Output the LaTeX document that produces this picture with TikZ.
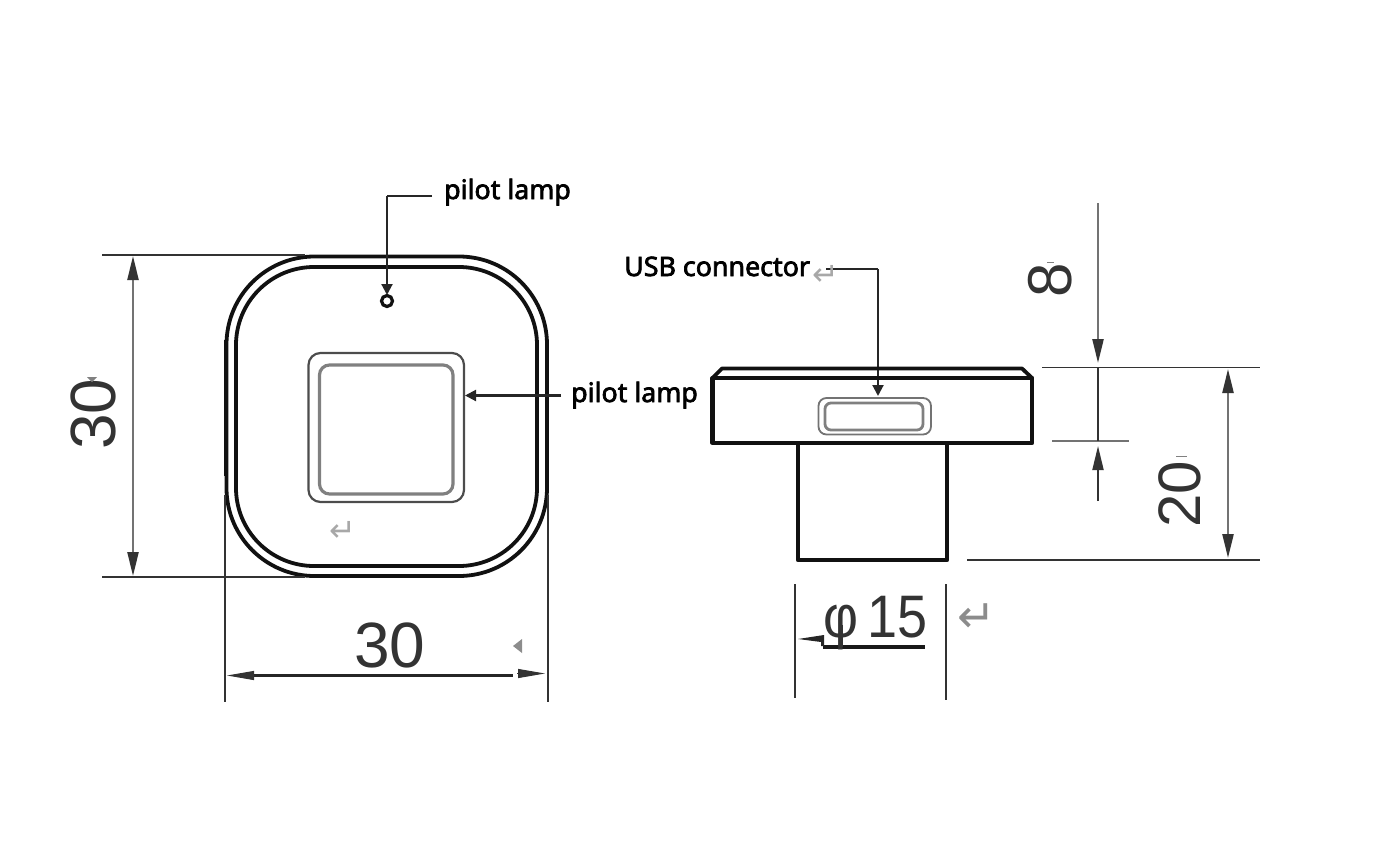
\documentclass[tikz,border=0pt]{standalone}
\usepackage{graphicx}
\usepackage{fontspec}
\setmainfont{Liberation Sans}
\newfontfamily\labelfont[FakeBold=2.6]{Noto Sans}
\newfontfamily\markfont{DejaVu Sans}
\usetikzlibrary{arrows.meta,calc}
\definecolor{ink}{HTML}{111111}
\definecolor{dimtxt}{HTML}{333333}
\definecolor{midgray}{HTML}{808080}
\definecolor{retgray}{HTML}{A8A8A8}
\tikzset{
  x=1pt,y=-1pt,
  body/.style={draw=ink,line width=4.2pt},
  bodyrim/.style={draw=ink,line width=3.8pt},
  fine/.style={draw=black!70,line width=2.2pt},
  softline/.style={draw=midgray,line width=3.2pt},
  dimline/.style={draw=black!80,line width=1.9pt},
  softdim/.style={draw=black!55,line width=2.4pt},
  leader/.style={draw=black!85,line width=2.1pt},
  headA/.tip={Stealth[length=24pt,width=11pt,inset=0pt,color=black!80]},
  smalltip/.style={-{Stealth[length=11pt,width=11pt,inset=0pt]}},
  ftxt/.style={font=\labelfont\fontsize{26.8}{28}\selectfont,text=black,inner sep=0pt},
  dimtext/.style={font=\fontsize{64}{66}\selectfont,text=dimtxt,inner sep=0pt},
  ret/.style={font=\markfont\fontsize{32}{34}\selectfont,text=retgray,inner sep=0pt},
}
\begin{document}
\begin{tikzpicture}
\useasboundingbox (0,0) rectangle (1398,856);
% front view
\draw[bodyrim,rounded corners=88pt] (226.5,256.5) rectangle (547,576);
\draw[bodyrim,rounded corners=78pt] (236,267) rectangle (537,566);
\draw[bodyrim] (226,340) -- (226,476);
\draw[bodyrim] (235.5,340) -- (235.5,475);
\draw[fine,rounded corners=12pt] (308.5,353) rectangle (464,502);
\draw[softline,rounded corners=10pt] (319.5,365) rectangle (453,494);
\node[circle,draw=ink,line width=3.2pt,minimum size=11pt,inner sep=0pt] (lamp) at (387,301) {};
% labels
\node[ftxt,anchor=base west] (lampA) at (444,199) {pilot lamp};
\node[ftxt,anchor=base west] (lampB) at (571,402) {pilot lamp};
\node[ftxt,anchor=base west] (usb) at (624,276) {USB connector};
\coordinate (elbowA) at (387,196);
\coordinate (lampTop) at (387,295);
\coordinate (squareR) at (465,395.5);
\coordinate (lampBfree) at (561,395.5);
\coordinate (usbfree) at (826,269);
\coordinate (elbowU) at (878,269);
\coordinate (portTop) at (878,396);
\coordinate (lampAfree) at (432,196);
\draw[leader] (lampAfree) -- (elbowA);
\draw[leader,smalltip] (elbowA) -- (lampTop);
\draw[leader,smalltip] (lampBfree) -- (squareR);
\draw[leader] (usbfree) -- (elbowU);
\draw[leader,smalltip] (elbowU) -- (portTop);
% return marks
\node[ret] at (343,531) {↵};
\node[ret] at (826,275) {↵};
\node[ret,font=\markfont\fontsize{46}{48}\selectfont,text=black!45] at (977,618) {↵};
% dimension 30 left
\coordinate (tl1) at (102,255); \coordinate (tl2) at (305,255);
\coordinate (bl1) at (102,577); \coordinate (bl2) at (305,577);
\draw[dimline] (tl1) -- (tl2);
\draw[dimline] (bl1) -- (bl2);
\coordinate (la) at (133,256); \coordinate (lb) at (133,576);
\draw[softdim,{headA}-{headA}] (la) -- (lb);
\node[dimtext,rotate=90] (d30a) at (93,414) {30};
% dimension 30 bottom
\coordinate (bx1a) at (225,495); \coordinate (bx1b) at (225,702);
\coordinate (bx2a) at (548,495); \coordinate (bx2b) at (548,702);
\draw[dimline] (bx1a) -- (bx1b);
\draw[dimline] (bx2a) -- (bx2b);
\coordinate (ba) at (253,675.5); \coordinate (bA) at (227,675.5);
\coordinate (bb) at (513,675.5); \coordinate (bB) at (545,673.5); \coordinate (bc) at (517,673.5);
\draw[draw=black!85,line width=3.6pt] (ba) -- (bb);
\draw[draw=black!80,line width=1pt,{Stealth[length=27pt,width=9pt,inset=0pt]}-] (bA) -- (ba);
\draw[draw=black!80,line width=1pt,-{Stealth[length=27pt,width=9pt,inset=0pt]}] (bc) -- (bB);
\node[dimtext] (d30b) at (390,645) {30};
\fill[black!45] (513,646) -- (522,639) -- (522,653) -- cycle;
% side view
\draw[bodyrim,line join=round] (712.5,378) -- (722,368.5) -- (1022,368.5) -- (1032,378) -- cycle;
\draw[body,line join=round] (712.5,378) rectangle (1032,443);
\draw[body,line join=round] (798,443) -- (798,560) -- (947,560) -- (947,443);
\draw[black!55,line width=1.8pt,rounded corners=8pt] (818.5,398) rectangle (931,434.5);
\draw[black!50,line width=2.8pt,rounded corners=6pt] (825,403) rectangle (923,430);
% phi 15
\coordinate (p1a) at (795,584); \coordinate (p1b) at (795,698);
\coordinate (p2a) at (946,584); \coordinate (p2b) at (946,700);
\draw[dimline] (p1a) -- (p1b);
\draw[dimline] (p2a) -- (p2b);
\coordinate (u1) at (823,647); \coordinate (u2) at (925,647);
\draw[draw=black!90,line width=3.4pt] (u1) -- (u2);
\fill[black!85] (798,639) -- (824,635) -- (824,646) -- (821,646) -- (821,642) -- cycle;
\node[dimtext,font=\fontsize{60}{62}\selectfont,anchor=base west] (d15) at (823,637) {\scalebox{.9}[1]{φ\,15}};
\draw[draw=dimtxt,line width=2.4pt] (841.5,625) -- (841.5,647);
% dimensions 8 and 20
\coordinate (t1) at (1042,367.5); \coordinate (t2) at (1260,367.5);
\coordinate (m1) at (1052,441); \coordinate (m2) at (1129,441);
\coordinate (s1) at (967,560); \coordinate (s2) at (1260,560);
\draw[dimline] (t1) -- (t2);
\draw[softdim] (m1) -- (m2);
\draw[dimline] (s1) -- (s2);
\coordinate (e1) at (1098,203); \coordinate (e2) at (1098,363);
\coordinate (e3) at (1098,367.5); \coordinate (e4) at (1098,441);
\coordinate (e5) at (1098,501); \coordinate (e6) at (1098,446);
\draw[softdim,-{headA}] (e1) -- (e2);
\draw[dimline] (e3) -- (e4);
\draw[dimline,-{headA}] (e5) -- (e6);
\node[dimtext,font=\fontsize{62}{64}\selectfont,rotate=90] (d8) at (1050,280) {8};
\coordinate (h1) at (1228,369); \coordinate (h2) at (1228,558);
\draw[softdim,{headA}-{headA}] (h1) -- (h2);
\node[dimtext,font=\fontsize{60}{62}\selectfont,rotate=90] (d20) at (1180,494) {20};
% small ticks
\draw[black!50,line width=1pt] (1176,456) -- (1187,456);
\draw[black!50,line width=1pt] (1047,262) -- (1054,262);
\fill[black!50] (87,377) -- (97,377) -- (92,382) -- cycle;
\end{tikzpicture}
\end{document}
